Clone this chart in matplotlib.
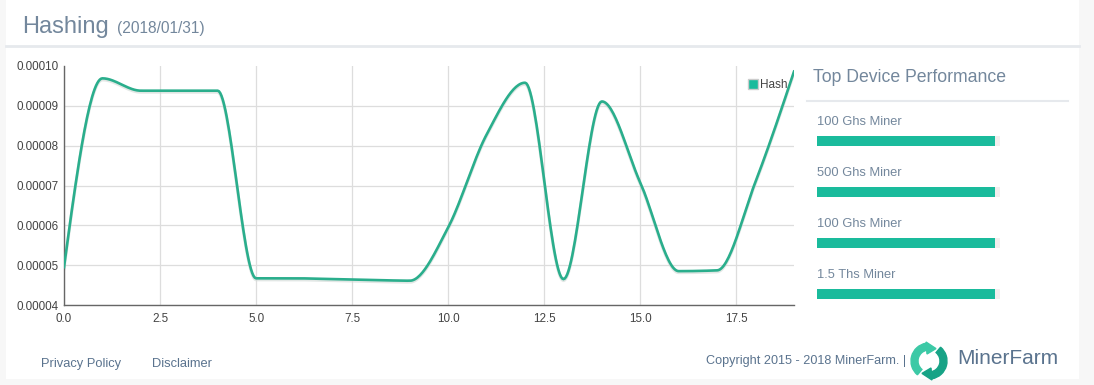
import numpy as np
import matplotlib.pyplot as plt
from matplotlib.patches import Patch, Rectangle, Wedge, Polygon
from matplotlib.lines import Line2D
from matplotlib.transforms import ScaledTranslation

plt.rcParams['font.family'] = ['Liberation Sans', 'DejaVu Sans']

# data
days = list(range(20))
hash_rate = [0.0000495, 0.0000969, 0.0000938, 0.0000938, 0.0000938,
             0.0000467, 0.0000467, 0.0000465, 0.0000463, 0.0000461,
             0.0000595, 0.0000828, 0.0000958, 0.0000465, 0.0000911,
             0.0000707, 0.0000485, 0.0000487, 0.0000710, 0.0000986]
x_ticks = [0.0, 2.5, 5.0, 7.5, 10.0, 12.5, 15.0, 17.5]
y_ticks = [0.00004, 0.00005, 0.00006, 0.00007, 0.00008, 0.00009, 0.00010]
devices = ['100 Ghs Miner', '500 Ghs Miner', '100 Ghs Miner', '1.5 Ths Miner']
device_perf = [97, 97, 97, 97]

TEAL = '#1abb9c'
LINE = '#2aae8c'
GREY_TXT = '#73879c'
FOOT_TXT = '#5a738e'


def monotone_curve(x, y, n=30):
    # d3 curveMonotoneX style rendering of the sampled points
    x = np.asarray(x, float)
    y = np.asarray(y, float)
    h = np.diff(x)
    s = np.diff(y) / h
    t = np.zeros_like(y)
    for i in range(1, len(y) - 1):
        p = (s[i - 1] * h[i] + s[i] * h[i - 1]) / (h[i - 1] + h[i])
        t[i] = (np.sign(s[i - 1]) + np.sign(s[i])) * min(abs(s[i - 1]), abs(s[i]), 0.5 * abs(p))
    t[0] = (3 * s[0] - t[1]) / 2
    t[-1] = (3 * s[-1] - t[-2]) / 2
    xs, ys = [], []
    for i in range(len(x) - 1):
        u = np.linspace(0, 1, n, endpoint=False)
        h00 = 2 * u**3 - 3 * u**2 + 1
        h10 = u**3 - 2 * u**2 + u
        h01 = -2 * u**3 + 3 * u**2
        h11 = u**3 - u**2
        xs.append(x[i] + u * h[i])
        ys.append(h00 * y[i] + h10 * h[i] * t[i] + h01 * y[i + 1] + h11 * h[i] * t[i + 1])
    xs.append([x[-1]])
    ys.append([y[-1]])
    return np.concatenate(xs), np.concatenate(ys)


W, H = 1094, 385
fig = plt.figure(figsize=(W / 100, H / 100), dpi=100)
fig.patch.set_facecolor('#f7f7f7')


def fx(px):
    return px / W


def fy(py):
    return 1 - py / H


# white panel and separators
fig.patches.append(Rectangle((fx(6), fy(379)), fx(1073), 379 / H, transform=fig.transFigure,
                             facecolor='white', edgecolor='none', zorder=-5))
fig.lines.append(Line2D([fx(6), fx(1079)], [fy(46), fy(46)], transform=fig.transFigure,
                        color='#e6e9ed', lw=2))
fig.lines.append(Line2D([fx(807), fx(1068)], [fy(101), fy(101)], transform=fig.transFigure,
                        color='#e6e9ed', lw=1.5))

fig.text(fx(22), fy(27), 'Hashing', fontsize=17, color=GREY_TXT, va='center')
fig.text(fx(117), fy(29), '(2018/01/31)', fontsize=11.2, color=GREY_TXT, va='center')

# main line chart
ax = fig.add_axes([fx(64), fy(305), fx(730), 239 / H])
ax.set_facecolor('none')
cx, cy = monotone_curve(days, hash_rate)
ax.plot(cx, cy, color='#cfd8d4', lw=2.2, alpha=0.6, zorder=2,
        transform=ax.transData + ScaledTranslation(0, -1.5 / 100, fig.dpi_scale_trans))
ax.plot(cx, cy, color=LINE, lw=1.9, zorder=3)
ax.set_xlim(0, 19)
ax.set_ylim(0.00004, 0.00010)
ax.set_xticks(x_ticks)
ax.set_xticklabels(['%.1f' % v for v in x_ticks])
ax.set_yticks(y_ticks)
ax.set_yticklabels(['%.5f' % v for v in y_ticks])
ax.grid(True, color='#dddddd', lw=0.9)
ax.set_axisbelow(True)
ax.yaxis.get_gridlines()[-1].set_visible(False)
for side in ['top', 'right']:
    ax.spines[side].set_visible(False)
for side in ['left', 'bottom']:
    ax.spines[side].set_color('#666666')
    ax.spines[side].set_linewidth(1)
ax.tick_params(axis='y', length=0, pad=4, labelsize=8.4, labelcolor='#444444')
ax.tick_params(axis='x', length=0, pad=6, labelsize=8.4, labelcolor='#444444')
ax.legend(handles=[Patch(facecolor=TEAL, edgecolor='#cccccc', label='Hash')],
          loc='upper right', bbox_to_anchor=(0.997, 0.965), frameon=False, fontsize=8.5,
          handlelength=0.85, handleheight=0.85, handletextpad=0.12, borderaxespad=0,
          labelcolor='#444444')

# right panel: top devices
fig.text(fx(813), fy(77), 'Top Device Performance', fontsize=12.7, color=GREY_TXT, va='center')
bx = fig.add_axes([fx(817), fy(309.3), fx(183), 204 / H])
bx.patch.set_visible(False)
pos = np.arange(len(devices))
bx.barh(pos, [100] * len(devices), height=0.196, color='#f3eeee', align='center')
bx.barh(pos, device_perf, height=0.196, color=TEAL, align='center')
for i, name in enumerate(devices):
    bx.text(0, i - 0.37, name, fontsize=9.3, color=GREY_TXT, va='center', ha='left')
bx.set_xlim(0, 100)
bx.set_ylim(3.3, -0.7)
bx.axis('off')

# footer
fig.text(fx(41), fy(364), 'Privacy Policy', fontsize=9.3, color=FOOT_TXT, va='center')
fig.text(fx(152), fy(364), 'Disclaimer', fontsize=9.3, color=FOOT_TXT, va='center')
fig.text(fx(906), fy(361), 'Copyright 2015 - 2018 MinerFarm. |', fontsize=9.1,
         color=FOOT_TXT, va='center', ha='right')
fig.text(fx(957), fy(359), 'MinerFarm', fontsize=15, color=FOOT_TXT, va='center')

# logo
lx = fig.add_axes([fx(909), fy(381), fx(40), 40 / H])
lx.set_xlim(-1, 1)
lx.set_ylim(-1, 1)
lx.set_aspect('equal')
lx.axis('off')
lx.add_patch(Wedge((0, 0), 0.9, 100, 230, width=0.35, color='#3cc9a6'))
lx.add_patch(Wedge((0, 0), 0.9, 280, 50, width=0.35, color='#17a386'))
lx.add_patch(Polygon([[-0.15, 0.95], [0.35, 0.62], [-0.1, 0.35]], color='#3cc9a6'))
lx.add_patch(Polygon([[0.15, -0.95], [-0.35, -0.62], [0.1, -0.35]], color='#17a386'))

fig.savefig('out.png', dpi=100, facecolor=fig.get_facecolor())
